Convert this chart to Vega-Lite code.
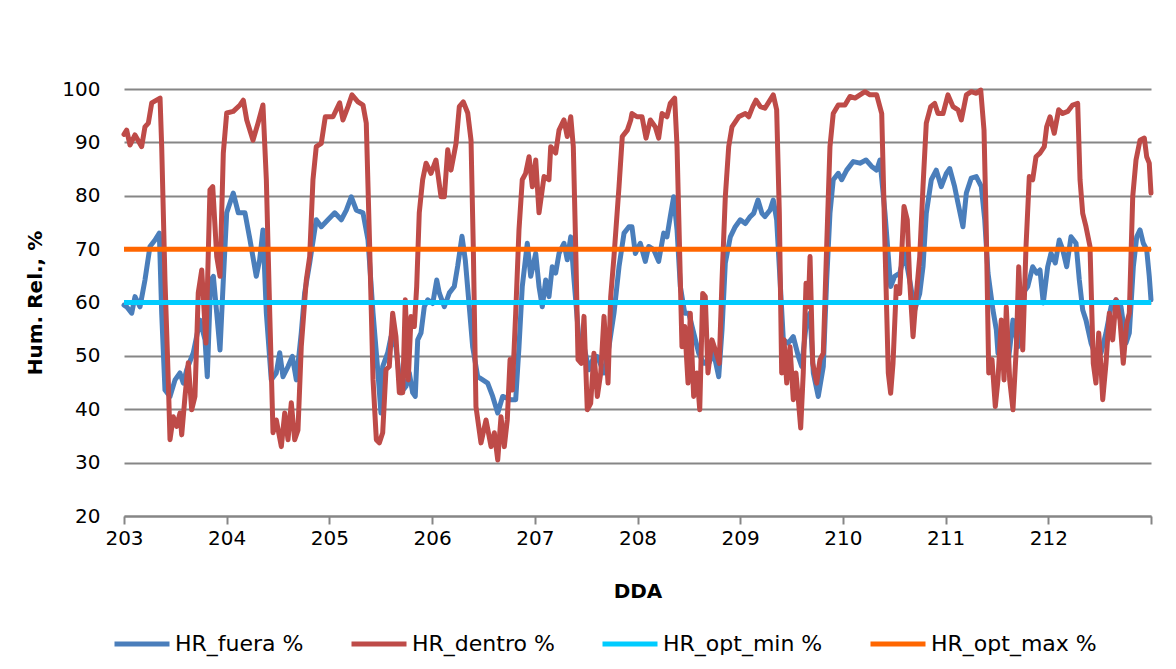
{
"$schema": "https://vega.github.io/schema/vega-lite/v6.json",
"width": 1027, "height": 427,
"autosize": {"type": "none"},
"padding": {"left": 124, "top": 89, "right": 25, "bottom": 153},
"background": "white",
"config": {"view": {"stroke": null}, "font": "DejaVu Sans"},
"datasets": {
"fuera": [{"d":203.000,"v":59.5},{"d":203.026,"v":59.2},{"d":203.075,"v":58.0},{"d":203.107,"v":61.1},{"d":203.156,"v":59.2},{"d":203.204,"v":64.2},{"d":203.253,"v":70.5},{"d":203.302,"v":71.7},{"d":203.344,"v":73.0},{"d":203.367,"v":58.0},{"d":203.399,"v":43.6},{"d":203.448,"v":42.4},{"d":203.497,"v":45.5},{"d":203.545,"v":46.8},{"d":203.577,"v":44.9},{"d":203.611,"v":47.4},{"d":203.675,"v":50.6},{"d":203.740,"v":56.7},{"d":203.789,"v":53.0},{"d":203.811,"v":46.1},{"d":203.844,"v":64.2},{"d":203.870,"v":64.9},{"d":203.903,"v":58.0},{"d":203.935,"v":51.1},{"d":203.967,"v":64.2},{"d":204.000,"v":76.8},{"d":204.064,"v":80.5},{"d":204.113,"v":76.8},{"d":204.178,"v":76.8},{"d":204.227,"v":71.7},{"d":204.288,"v":64.9},{"d":204.321,"v":68.0},{"d":204.353,"v":73.6},{"d":204.386,"v":58.0},{"d":204.434,"v":45.5},{"d":204.483,"v":46.8},{"d":204.516,"v":50.6},{"d":204.548,"v":46.1},{"d":204.597,"v":48.0},{"d":204.639,"v":49.9},{"d":204.678,"v":45.5},{"d":204.726,"v":54.3},{"d":204.759,"v":61.8},{"d":204.808,"v":67.4},{"d":204.872,"v":75.5},{"d":204.921,"v":74.2},{"d":204.986,"v":75.5},{"d":205.052,"v":76.8},{"d":205.116,"v":75.5},{"d":205.165,"v":77.3},{"d":205.213,"v":79.8},{"d":205.262,"v":77.3},{"d":205.327,"v":76.8},{"d":205.376,"v":71.7},{"d":205.425,"v":58.0},{"d":205.473,"v":46.8},{"d":205.502,"v":39.3},{"d":205.519,"v":48.0},{"d":205.568,"v":50.6},{"d":205.600,"v":53.6},{"d":205.648,"v":51.7},{"d":205.697,"v":43.1},{"d":205.746,"v":44.3},{"d":205.778,"v":46.8},{"d":205.811,"v":43.1},{"d":205.836,"v":42.4},{"d":205.860,"v":53.0},{"d":205.892,"v":54.3},{"d":205.924,"v":59.2},{"d":205.957,"v":60.5},{"d":206.006,"v":59.8},{"d":206.045,"v":64.2},{"d":206.070,"v":61.8},{"d":206.119,"v":59.2},{"d":206.168,"v":61.8},{"d":206.216,"v":63.0},{"d":206.249,"v":66.8},{"d":206.291,"v":72.4},{"d":206.323,"v":68.0},{"d":206.362,"v":59.2},{"d":206.395,"v":51.7},{"d":206.444,"v":46.1},{"d":206.493,"v":45.5},{"d":206.541,"v":44.9},{"d":206.590,"v":42.4},{"d":206.639,"v":39.3},{"d":206.687,"v":42.4},{"d":206.765,"v":41.8},{"d":206.814,"v":41.8},{"d":206.846,"v":51.7},{"d":206.878,"v":63.0},{"d":206.927,"v":71.1},{"d":206.960,"v":64.9},{"d":207.009,"v":69.2},{"d":207.041,"v":63.0},{"d":207.073,"v":59.2},{"d":207.106,"v":64.2},{"d":207.138,"v":61.1},{"d":207.170,"v":66.7},{"d":207.203,"v":65.5},{"d":207.236,"v":69.2},{"d":207.284,"v":71.1},{"d":207.316,"v":68.0},{"d":207.350,"v":72.3},{"d":207.382,"v":64.2},{"d":207.430,"v":53.0},{"d":207.479,"v":51.7},{"d":207.528,"v":47.4},{"d":207.576,"v":49.9},{"d":207.609,"v":49.9},{"d":207.674,"v":46.8},{"d":207.722,"v":51.7},{"d":207.771,"v":58.0},{"d":207.820,"v":66.7},{"d":207.869,"v":73.0},{"d":207.917,"v":74.2},{"d":207.946,"v":74.2},{"d":207.979,"v":69.2},{"d":208.027,"v":71.1},{"d":208.076,"v":67.7},{"d":208.109,"v":70.5},{"d":208.158,"v":69.9},{"d":208.206,"v":67.7},{"d":208.255,"v":73.0},{"d":208.287,"v":72.3},{"d":208.319,"v":76.1},{"d":208.352,"v":79.8},{"d":208.385,"v":73.6},{"d":208.417,"v":63.0},{"d":208.460,"v":58.0},{"d":208.499,"v":58.0},{"d":208.547,"v":54.3},{"d":208.596,"v":50.5},{"d":208.645,"v":48.6},{"d":208.693,"v":48.6},{"d":208.742,"v":50.5},{"d":208.791,"v":46.1},{"d":208.823,"v":54.9},{"d":208.855,"v":67.4},{"d":208.904,"v":72.3},{"d":208.952,"v":74.2},{"d":209.001,"v":75.5},{"d":209.050,"v":74.8},{"d":209.098,"v":76.1},{"d":209.131,"v":76.7},{"d":209.173,"v":79.2},{"d":209.212,"v":76.7},{"d":209.241,"v":76.1},{"d":209.290,"v":77.3},{"d":209.322,"v":79.2},{"d":209.355,"v":75.5},{"d":209.388,"v":64.2},{"d":209.420,"v":53.0},{"d":209.468,"v":52.4},{"d":209.517,"v":53.6},{"d":209.566,"v":49.9},{"d":209.599,"v":48.0},{"d":209.647,"v":56.7},{"d":209.680,"v":58.0},{"d":209.712,"v":46.8},{"d":209.760,"v":42.4},{"d":209.809,"v":48.0},{"d":209.842,"v":64.2},{"d":209.874,"v":76.7},{"d":209.906,"v":83.0},{"d":209.955,"v":84.2},{"d":209.988,"v":83.0},{"d":210.037,"v":84.8},{"d":210.101,"v":86.4},{"d":210.166,"v":86.1},{"d":210.225,"v":86.7},{"d":210.280,"v":85.5},{"d":210.329,"v":84.8},{"d":210.361,"v":86.7},{"d":210.410,"v":76.7},{"d":210.465,"v":63.0},{"d":210.504,"v":64.9},{"d":210.553,"v":65.5},{"d":210.602,"v":69.2},{"d":210.650,"v":64.2},{"d":210.699,"v":58.6},{"d":210.748,"v":61.7},{"d":210.780,"v":66.7},{"d":210.812,"v":76.7},{"d":210.861,"v":83.0},{"d":210.909,"v":84.8},{"d":210.958,"v":81.7},{"d":211.007,"v":84.2},{"d":211.040,"v":85.1},{"d":211.088,"v":81.7},{"d":211.121,"v":78.6},{"d":211.169,"v":74.2},{"d":211.202,"v":80.5},{"d":211.250,"v":83.3},{"d":211.299,"v":83.6},{"d":211.348,"v":81.7},{"d":211.381,"v":75.5},{"d":211.413,"v":65.5},{"d":211.461,"v":58.6},{"d":211.494,"v":54.9},{"d":211.510,"v":50.5},{"d":211.559,"v":53.0},{"d":211.608,"v":48.6},{"d":211.656,"v":56.7},{"d":211.705,"v":51.7},{"d":211.751,"v":61.7},{"d":211.800,"v":63.0},{"d":211.848,"v":66.7},{"d":211.887,"v":65.5},{"d":211.919,"v":66.1},{"d":211.951,"v":59.9},{"d":211.994,"v":66.7},{"d":212.026,"v":69.2},{"d":212.068,"v":67.4},{"d":212.107,"v":71.7},{"d":212.140,"v":69.9},{"d":212.179,"v":66.7},{"d":212.221,"v":72.3},{"d":212.270,"v":71.1},{"d":212.302,"v":64.2},{"d":212.335,"v":58.6},{"d":212.367,"v":56.7},{"d":212.416,"v":52.4},{"d":212.464,"v":49.9},{"d":212.513,"v":50.5},{"d":212.562,"v":54.3},{"d":212.611,"v":59.2},{"d":212.659,"v":60.5},{"d":212.708,"v":59.2},{"d":212.757,"v":52.4},{"d":212.789,"v":54.3},{"d":212.828,"v":66.7},{"d":212.861,"v":72.3},{"d":212.893,"v":73.6},{"d":212.925,"v":71.1},{"d":212.958,"v":69.9},{"d":212.983,"v":64.9},{"d":213.000,"v":60.5}],
"dentro": [{"d":203.000,"v":91.5},{"d":203.026,"v":92.3},{"d":203.058,"v":89.5},{"d":203.107,"v":91.4},{"d":203.172,"v":89.2},{"d":203.204,"v":92.9},{"d":203.237,"v":93.6},{"d":203.270,"v":97.4},{"d":203.351,"v":98.3},{"d":203.367,"v":89.2},{"d":203.399,"v":64.2},{"d":203.431,"v":45.5},{"d":203.448,"v":34.3},{"d":203.480,"v":38.6},{"d":203.513,"v":36.8},{"d":203.545,"v":39.3},{"d":203.562,"v":35.2},{"d":203.594,"v":42.4},{"d":203.626,"v":48.7},{"d":203.659,"v":39.9},{"d":203.691,"v":42.4},{"d":203.723,"v":61.8},{"d":203.757,"v":66.1},{"d":203.798,"v":52.4},{"d":203.837,"v":81.1},{"d":203.864,"v":81.7},{"d":203.903,"v":68.6},{"d":203.935,"v":64.9},{"d":203.967,"v":88.0},{"d":204.000,"v":95.5},{"d":204.064,"v":95.8},{"d":204.130,"v":97.0},{"d":204.162,"v":97.9},{"d":204.195,"v":94.2},{"d":204.256,"v":90.4},{"d":204.305,"v":93.6},{"d":204.353,"v":97.0},{"d":204.386,"v":83.0},{"d":204.419,"v":58.0},{"d":204.451,"v":35.6},{"d":204.483,"v":38.0},{"d":204.532,"v":33.0},{"d":204.565,"v":39.3},{"d":204.597,"v":34.3},{"d":204.629,"v":41.2},{"d":204.662,"v":34.3},{"d":204.694,"v":36.1},{"d":204.726,"v":51.7},{"d":204.775,"v":64.2},{"d":204.808,"v":68.6},{"d":204.840,"v":83.0},{"d":204.872,"v":89.2},{"d":204.921,"v":89.8},{"d":204.960,"v":94.8},{"d":205.035,"v":94.8},{"d":205.100,"v":97.4},{"d":205.132,"v":94.2},{"d":205.181,"v":96.7},{"d":205.220,"v":98.9},{"d":205.278,"v":97.6},{"d":205.327,"v":97.0},{"d":205.359,"v":93.6},{"d":205.392,"v":70.5},{"d":205.425,"v":45.5},{"d":205.457,"v":34.3},{"d":205.486,"v":33.7},{"d":205.519,"v":35.6},{"d":205.551,"v":47.4},{"d":205.583,"v":48.0},{"d":205.616,"v":58.0},{"d":205.648,"v":53.6},{"d":205.681,"v":43.1},{"d":205.714,"v":43.1},{"d":205.739,"v":60.5},{"d":205.768,"v":45.5},{"d":205.795,"v":57.4},{"d":205.827,"v":55.5},{"d":205.850,"v":63.0},{"d":205.875,"v":76.8},{"d":205.908,"v":83.0},{"d":205.941,"v":86.1},{"d":205.989,"v":84.2},{"d":206.038,"v":86.7},{"d":206.087,"v":79.8},{"d":206.119,"v":79.8},{"d":206.152,"v":88.6},{"d":206.184,"v":84.8},{"d":206.233,"v":89.8},{"d":206.265,"v":96.7},{"d":206.304,"v":97.6},{"d":206.347,"v":95.5},{"d":206.379,"v":90.4},{"d":206.401,"v":70.5},{"d":206.427,"v":40.5},{"d":206.476,"v":33.7},{"d":206.525,"v":38.0},{"d":206.574,"v":33.0},{"d":206.606,"v":35.6},{"d":206.639,"v":30.5},{"d":206.671,"v":38.6},{"d":206.703,"v":33.0},{"d":206.732,"v":38.0},{"d":206.759,"v":49.3},{"d":206.781,"v":43.6},{"d":206.814,"v":58.0},{"d":206.846,"v":73.6},{"d":206.878,"v":83.0},{"d":206.911,"v":84.2},{"d":206.944,"v":87.3},{"d":206.976,"v":81.7},{"d":207.009,"v":86.7},{"d":207.041,"v":76.8},{"d":207.090,"v":83.6},{"d":207.138,"v":83.0},{"d":207.155,"v":89.2},{"d":207.203,"v":88.0},{"d":207.236,"v":92.3},{"d":207.284,"v":94.2},{"d":207.316,"v":91.1},{"d":207.350,"v":94.8},{"d":207.375,"v":89.2},{"d":207.398,"v":70.5},{"d":207.421,"v":49.3},{"d":207.453,"v":48.6},{"d":207.479,"v":57.4},{"d":207.511,"v":39.9},{"d":207.544,"v":41.1},{"d":207.576,"v":50.5},{"d":207.609,"v":42.4},{"d":207.642,"v":46.8},{"d":207.674,"v":57.4},{"d":207.713,"v":44.9},{"d":207.739,"v":61.1},{"d":207.771,"v":68.6},{"d":207.820,"v":81.7},{"d":207.852,"v":91.1},{"d":207.901,"v":92.3},{"d":207.934,"v":94.2},{"d":207.946,"v":95.4},{"d":207.995,"v":94.8},{"d":208.044,"v":94.8},{"d":208.083,"v":90.8},{"d":208.125,"v":94.2},{"d":208.173,"v":92.9},{"d":208.206,"v":90.8},{"d":208.239,"v":95.4},{"d":208.287,"v":94.8},{"d":208.319,"v":97.3},{"d":208.362,"v":98.3},{"d":208.385,"v":89.2},{"d":208.417,"v":64.2},{"d":208.433,"v":51.7},{"d":208.460,"v":55.5},{"d":208.492,"v":44.9},{"d":208.514,"v":58.0},{"d":208.547,"v":42.4},{"d":208.579,"v":46.8},{"d":208.606,"v":39.9},{"d":208.635,"v":61.7},{"d":208.660,"v":61.1},{"d":208.686,"v":46.8},{"d":208.725,"v":53.0},{"d":208.758,"v":51.1},{"d":208.796,"v":48.6},{"d":208.823,"v":64.2},{"d":208.855,"v":79.8},{"d":208.888,"v":89.2},{"d":208.920,"v":92.9},{"d":208.985,"v":94.8},{"d":209.050,"v":95.4},{"d":209.083,"v":94.8},{"d":209.122,"v":96.7},{"d":209.154,"v":97.9},{"d":209.196,"v":96.7},{"d":209.241,"v":96.4},{"d":209.322,"v":98.9},{"d":209.355,"v":96.1},{"d":209.381,"v":76.7},{"d":209.404,"v":46.8},{"d":209.427,"v":53.0},{"d":209.453,"v":44.9},{"d":209.485,"v":51.7},{"d":209.517,"v":41.8},{"d":209.543,"v":46.8},{"d":209.566,"v":41.8},{"d":209.589,"v":36.5},{"d":209.614,"v":46.8},{"d":209.641,"v":63.6},{"d":209.663,"v":59.2},{"d":209.680,"v":68.6},{"d":209.706,"v":48.6},{"d":209.745,"v":44.9},{"d":209.777,"v":49.3},{"d":209.809,"v":50.5},{"d":209.842,"v":70.5},{"d":209.874,"v":89.2},{"d":209.906,"v":95.4},{"d":209.955,"v":97.0},{"d":210.020,"v":97.0},{"d":210.069,"v":98.6},{"d":210.118,"v":98.3},{"d":210.166,"v":98.9},{"d":210.215,"v":99.5},{"d":210.264,"v":98.9},{"d":210.329,"v":98.9},{"d":210.378,"v":95.4},{"d":210.410,"v":70.5},{"d":210.442,"v":46.8},{"d":210.465,"v":43.0},{"d":210.488,"v":48.6},{"d":210.520,"v":63.0},{"d":210.553,"v":61.7},{"d":210.595,"v":78.0},{"d":210.627,"v":75.5},{"d":210.650,"v":64.2},{"d":210.683,"v":53.6},{"d":210.705,"v":59.2},{"d":210.748,"v":68.6},{"d":210.780,"v":81.7},{"d":210.812,"v":93.6},{"d":210.855,"v":96.7},{"d":210.894,"v":97.3},{"d":210.926,"v":95.4},{"d":210.975,"v":95.4},{"d":211.023,"v":98.9},{"d":211.072,"v":96.7},{"d":211.121,"v":96.1},{"d":211.153,"v":94.2},{"d":211.202,"v":98.9},{"d":211.250,"v":99.5},{"d":211.299,"v":99.2},{"d":211.342,"v":99.8},{"d":211.374,"v":92.3},{"d":211.396,"v":73.6},{"d":211.420,"v":46.8},{"d":211.452,"v":49.3},{"d":211.484,"v":40.5},{"d":211.510,"v":45.5},{"d":211.542,"v":56.7},{"d":211.569,"v":45.5},{"d":211.591,"v":59.2},{"d":211.624,"v":45.5},{"d":211.656,"v":39.9},{"d":211.689,"v":51.7},{"d":211.712,"v":66.7},{"d":211.751,"v":51.1},{"d":211.783,"v":70.5},{"d":211.815,"v":83.6},{"d":211.848,"v":83.0},{"d":211.880,"v":87.3},{"d":211.919,"v":88.0},{"d":211.961,"v":89.2},{"d":211.984,"v":92.9},{"d":212.017,"v":94.8},{"d":212.058,"v":91.7},{"d":212.101,"v":96.1},{"d":212.140,"v":95.4},{"d":212.189,"v":95.8},{"d":212.237,"v":97.0},{"d":212.286,"v":97.3},{"d":212.309,"v":83.0},{"d":212.335,"v":76.7},{"d":212.367,"v":74.2},{"d":212.406,"v":70.5},{"d":212.438,"v":48.6},{"d":212.464,"v":44.9},{"d":212.491,"v":54.3},{"d":212.513,"v":48.0},{"d":212.530,"v":41.8},{"d":212.562,"v":48.6},{"d":212.594,"v":58.0},{"d":212.627,"v":53.0},{"d":212.659,"v":60.5},{"d":212.698,"v":56.7},{"d":212.730,"v":48.6},{"d":212.763,"v":56.1},{"d":212.789,"v":58.0},{"d":212.822,"v":79.8},{"d":212.854,"v":86.7},{"d":212.893,"v":90.4},{"d":212.935,"v":90.8},{"d":212.958,"v":87.3},{"d":212.983,"v":86.1},{"d":213.000,"v":80.5}],
"optmin": [{"d":203,"v":60},{"d":213,"v":60}],
"optmax": [{"d":203,"v":70},{"d":213,"v":70}]
},
"encoding": {
  "x": {"field": "d", "type": "quantitative",
        "scale": {"domain": [203, 213], "nice": false, "zero": false},
        "axis": {"values": [203,204,205,206,207,208,209,210,211,212,213], "format": "d",
                 "labelExpr": "datum.value == 213 ? '' : datum.label", "labelFlush": false,
                 "grid": false, "domainColor": "#868686", "domainWidth": 2,
                 "tickColor": "#868686", "tickWidth": 2, "tickSize": 8,
                 "labelFont": "DejaVu Sans", "labelFontSize": 20, "labelColor": "#000000", "labelPadding": 4,
                 "title": "DDA", "titleFont": "DejaVu Sans", "titleFontSize": 20, "titleFontWeight": "bold",
                 "titleColor": "#000000", "titlePadding": 33}},
  "y": {"field": "v", "type": "quantitative",
        "scale": {"domain": [20, 100], "nice": false, "zero": false},
        "axis": {"values": [20,30,40,50,60,70,80,90,100], "grid": true, "gridColor": "#868686", "gridWidth": 2,
                 "domain": false, "ticks": false,
                 "labelFont": "DejaVu Sans", "labelFontSize": 20, "labelColor": "#000000", "labelPadding": 24,
                 "title": "Hum. Rel., %", "titleFont": "DejaVu Sans", "titleFontSize": 20, "titleFontWeight": "bold",
                 "titleColor": "#000000", "titlePadding": 16}}
},
"layer": [
  {"data": {"name": "fuera"}, "mark": {"type": "line", "strokeWidth": 5, "strokeJoin": "round", "strokeCap": "round"},
   "encoding": {"color": {"datum": "HR_fuera %", "type": "nominal",
     "scale": {"domain": ["HR_fuera %", "HR_dentro %", "HR_opt_min %", "HR_opt_max %"],
               "range": ["#4A7EBB", "#BE4B48", "#00CCFF", "#FF6600"]},
     "legend": {"orient": "none", "legendX": -12, "legendY": 525, "direction": "horizontal", "title": null,
                "symbolType": "stroke", "symbolSize": 3025, "symbolStrokeWidth": 5, "labelOffset": 3,
                "columnPadding": 37, "padding": 0,
                "labelFont": "DejaVu Sans", "labelFontSize": 22, "labelColor": "#000000", "labelLimit": 300}}}},
  {"data": {"name": "dentro"}, "mark": {"type": "line", "strokeWidth": 5, "strokeJoin": "round", "strokeCap": "round"},
   "encoding": {"color": {"datum": "HR_dentro %", "type": "nominal"}}},
  {"data": {"name": "optmin"}, "mark": {"type": "line", "strokeWidth": 5},
   "encoding": {"color": {"datum": "HR_opt_min %", "type": "nominal"}}},
  {"data": {"name": "optmax"}, "mark": {"type": "line", "strokeWidth": 5},
   "encoding": {"color": {"datum": "HR_opt_max %", "type": "nominal"}}}
]
}
